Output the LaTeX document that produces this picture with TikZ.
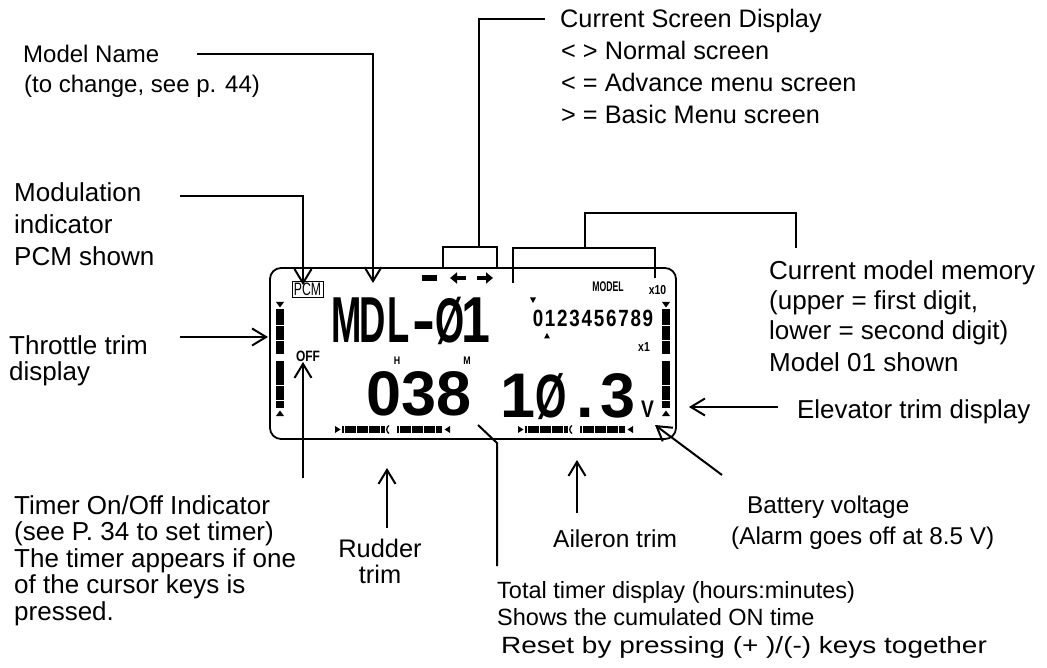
\documentclass[tikz,border=0pt]{standalone}
\usepackage{fontspec}
\usetikzlibrary{arrows.meta}
\setmainfont{Liberation Sans}
\newfontfamily\lcdM[FakeStretch=0.56]{Liberation Sans}
\newfontfamily\lcdD[FakeStretch=0.8]{Liberation Sans}
\newfontfamily\lcdS[FakeStretch=0.8]{Liberation Sans}
\newfontfamily\lcdT[FakeStretch=0.62]{Liberation Sans}
\newfontfamily\lcdN[FakeStretch=0.68]{Liberation Sans}
\newfontfamily\lcdDig[FakeStretch=0.8,LetterSpace=7.5]{Liberation Sans}
\newcommand\fsz[1]{\fontsize{#1}{#1}\selectfont}
\newcommand\vtrim[1]{%
 \fill (#1,302) -- (#1+8,302) -- (#1+4,307.5) -- cycle;
 \fill (#1,309) rectangle (#1+8,325);
 \fill (#1,326) rectangle (#1+8,340);
 \fill (#1,341) rectangle (#1+8,354);
 \fill (#1,361) rectangle (#1+8,385);
 \fill (#1,386) rectangle (#1+8,400);
 \fill (#1,401) rectangle (#1+8,407.5);
 \fill (#1,416) -- (#1+8,416) -- (#1+4,410.5) -- cycle;}
\newcommand\htrim[1]{%
 \fill (#1,426) -- (#1,433) -- (#1+5.5,429.5) -- cycle;
 \fill (#1+7,426) rectangle (#1+9,433);
 \fill (#1+10,426) rectangle (#1+21,433);
 \fill (#1+22,426) rectangle (#1+33,433);
 \fill (#1+34,426) rectangle (#1+45,433);
 \fill (#1+46,426) rectangle (#1+50,433);
 \draw[line width=1.3pt] (#1+54,425.5) .. controls (#1+51,427.5) and (#1+51,431.5) .. (#1+54,433.5);
 \fill (#1+62,426) rectangle (#1+64,433);
 \fill (#1+65,426) rectangle (#1+76,433);
 \fill (#1+77,426) rectangle (#1+88,433);
 \fill (#1+89,426) rectangle (#1+100,433);
 \fill (#1+101,426) rectangle (#1+107,433);
 \fill (#1+115,426) -- (#1+115,433) -- (#1+109.5,429.5) -- cycle;}
\begin{document}
\begin{tikzpicture}[x=1pt,y=-1pt,
  conn/.style={line width=2pt},
  arr/.style={conn,-{Straight Barb[length=14pt,width=17pt]}},
  lab/.style={anchor=base west,inner sep=0pt},
  labc/.style={anchor=base,inner sep=0pt},
  lcd/.style={inner sep=0pt}]
\useasboundingbox[fill=white] (0,0) rectangle (1047,668);

% ---------- labels ----------
\node[lab,font=\fsz{25.3}] (scr1) at (560,27.5) {Current Screen Display};
\node[lab,font=\fsz{25.3}] (scr2) at (561,59.5) {< > Normal screen};
\node[lab,font=\fsz{25.3}] (scr3) at (561,91.5) {< = Advance menu screen};
\node[lab,font=\fsz{25.3}] (scr4) at (561,123.5) {> = Basic Menu screen};

\node[lab,font=\fsz{24}] (mn1) at (23,63) {Model Name};
\node[lab,font=\fsz{24}] (mn2) at (24,93) {(to change, see p. 44)};

\node[lab,font=\fsz{26}] (mod1) at (14,202) {Modulation};
\node[lab,font=\fsz{26}] (mod2) at (14,234) {indicator};
\node[lab,font=\fsz{26}] (mod3) at (14,266) {PCM shown};

\node[lab,font=\fsz{26}] (thr1) at (9,355) {Throttle trim};
\node[lab,font=\fsz{26}] (thr2) at (9,381) {display};

\node[lab,font=\fsz{26}] (tim1) at (14,514) {Timer On/Off Indicator};
\node[lab,font=\fsz{26}] (tim2) at (14,540) {(see P. 34 to set timer)};
\node[lab,font=\fsz{26}] (tim3) at (14,567) {The timer appears if one};
\node[lab,font=\fsz{26}] (tim4) at (14,593) {of the cursor keys is};
\node[lab,font=\fsz{26}] (tim5) at (14,620) {pressed.};

\node[labc,font=\fsz{25.4}] (rud1) at (380,557) {Rudder};
\node[labc,font=\fsz{25.4}] (rud2) at (380,583) {trim};

\node[lab,font=\fsz{24.5}] (ail) at (553,547) {Aileron trim};

\node[lab,font=\fsz{24.3}] (bat1) at (747,513) {Battery voltage};
\node[lab,font=\fsz{24.3}] (bat2) at (731,544) {(Alarm goes off at 8.5 V)};

\node[lab,font=\fsz{23.5}] (tot1) at (497,598) {Total timer display (hours:minutes)};
\node[lab,font=\fsz{23.5}] (tot2) at (497,625) {Shows the cumulated ON time};
\node[lab,font=\fsz{23.5}] (tot3) at (501,653) {\scalebox{1.19}[1]{Reset by pressing (+ )/(-) keys together}};

\node[lab,font=\fsz{26}] (mem1) at (769,280) {Current model memory};
\node[lab,font=\fsz{26}] (mem2) at (769,310) {(upper = first digit,};
\node[lab,font=\fsz{26}] (mem3) at (769,340) {lower = second digit)};
\node[lab,font=\fsz{26}] (mem4) at (769,371) {Model 01 shown};

\node[lab,font=\fsz{25.9}] (elev) at (797,418) {Elevator trim display};

% ---------- LCD ----------
\draw[line width=1.8pt,rounded corners=11pt] (270,268) rectangle (676,439);

\node[lcd,draw,line width=0.9pt,minimum width=31pt,minimum height=16pt,font=\lcdN\fsz{18}] (pcm) at (307.5,289) {PCM};
\node[lcd,font=\lcdS\bfseries\fsz{15}] (off) at (308,356.5) {OFF};

\node[lcd,anchor=base west,font=\lcdM\bfseries\fsz{65}] (mdl) at (334,342)
  {\makebox[25.8pt]{M}\makebox[25.8pt]{D}\makebox[25.8pt]{L}\makebox[25.8pt]{\scalebox{1.9}[1]{-}}\makebox[25.8pt]{\lcdD\scalebox{0.72}[0.97]{Ø}}\makebox[25.8pt]{\lcdD 1}};

\node[lcd,font=\lcdS\bfseries\fsz{11}] (hh) at (397,360.5) {H};
\node[lcd,font=\lcdS\bfseries\fsz{11}] (mm) at (467,360.5) {M};

\node[lcd,anchor=base west,font=\bfseries\fsz{63}] (time) at (366,415)
  {\makebox[35pt]{0}\makebox[35pt]{3}\makebox[35pt]{8}};
\node[lcd,anchor=base west,font=\bfseries\fsz{63}] (volt) at (501,417)
  {\makebox[33.5pt]{1}\makebox[33.5pt]{\scalebox{0.64}[0.97]{Ø}}\makebox[33.5pt]{.}\makebox[33.5pt]{3}};
\node[lcd,anchor=base west,font=\lcdS\bfseries\fsz{24}] (vv) at (641,417) {V};

\node[lcd,font=\lcdT\bfseries\fsz{14}] (model) at (608,287) {MODEL};
\node[lcd,font=\lcdS\bfseries\fsz{13}] (x10) at (657.5,290.5) {x10};
\node[lcd,font=\lcdDig\bfseries\fsz{23.5}] (digits) at (593,318.5) {0123456789};
\node[lcd,font=\lcdS\bfseries\fsz{13}] (x1) at (644,347) {x1};

\fill (530,297.5) -- (536,297.5) -- (533,303) -- cycle;
\fill (544,338.5) -- (550,338.5) -- (547,333) -- cycle;

\fill (422,275) rectangle (437,281);
\draw[line width=3.5pt,-{Triangle[length=7pt,width=11pt]}] (466,278) -- (450,278);
\draw[line width=3.5pt,-{Triangle[length=7pt,width=11pt]}] (477,278) -- (493,278);

\vtrim{276}
\vtrim{662}
\htrim{335}
\htrim{518}

% ---------- connectors ----------
\coordinate (mnA) at (197,54);  \coordinate (mnB) at (373,54);  \coordinate (mnT) at (373,283);
\draw[arr] (mnA) -- (mnB) -- (mnT);

\coordinate (modA) at (180,196); \coordinate (modB) at (303,196); \coordinate (modT) at (303,285);
\draw[arr] (modA) -- (modB) -- (modT);

\coordinate (thrA) at (180,337); \coordinate (thrT) at (268,337);
\draw[arr] (thrA) -- (thrT);

\coordinate (timA) at (303,478); \coordinate (timT) at (303,362);
\draw[arr] (timA) -- (timT);

\coordinate (rudA) at (387,528); \coordinate (rudT) at (387,468);
\draw[arr] (rudA) -- (rudT);

\coordinate (ailA) at (577,513); \coordinate (ailT) at (577,460);
\draw[arr] (ailA) -- (ailT);

\coordinate (batA) at (722,475); \coordinate (batT) at (655,425);
\draw[arr] (batA) -- (batT);

\coordinate (elvA) at (778,407); \coordinate (elvT) at (689,407);
\draw[arr] (elvA) -- (elvT);

\coordinate (totA) at (497,566); \coordinate (totB) at (497,443); \coordinate (totT) at (478,425);
\draw[conn] (totA) -- (totB) -- (totT);

\coordinate (scrA) at (545,19); \coordinate (scrB) at (479,19); \coordinate (scrC) at (479,247);
\draw[conn] (scrA) -- (scrB) -- (scrC);
\draw[conn] (443,267) -- (443,247) -- (497,247) -- (497,267);

\coordinate (memA) at (796,248); \coordinate (memB) at (796,213); \coordinate (memC) at (585,213); \coordinate (memD) at (585,248);
\draw[conn] (memA) -- (memB) -- (memC) -- (memD);
\draw[conn] (513,283) -- (513,248) -- (655,248) -- (655,278);
\end{tikzpicture}
\end{document}
